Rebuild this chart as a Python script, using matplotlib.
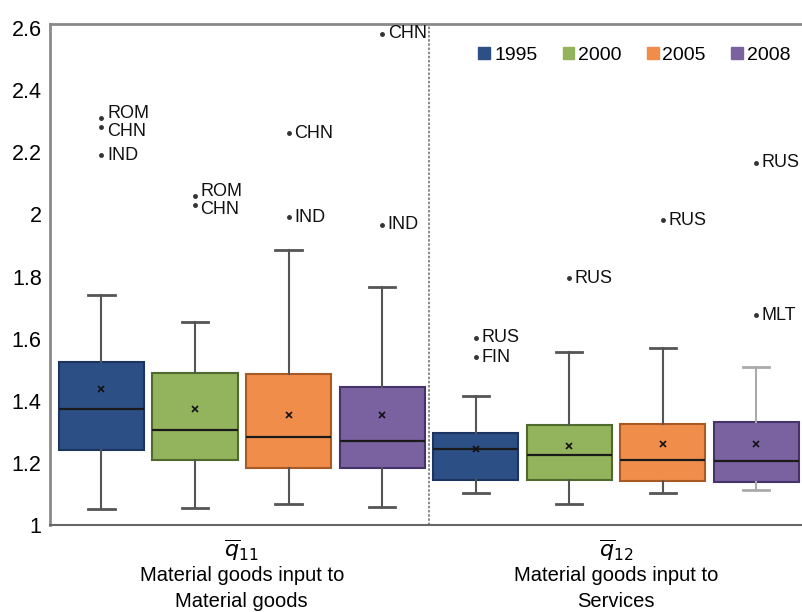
import matplotlib.pyplot as plt
from matplotlib.patches import Patch

plt.rcParams['font.family'] = ['Liberation Sans', 'DejaVu Sans']

# data (values on the y scale)
years = ['1995', '2000', '2005', '2008']
colors = ['#2c4f85', '#93b35c', '#f08d4b', '#7a62a0']
edge_colors = ['#1c3560', '#4f6a2c', '#a85a25', '#46336a']

# q11 : material goods input to material goods
q11_whislo = [1.053, 1.056, 1.067, 1.058]
q11_q1 = [1.240, 1.210, 1.183, 1.182]
q11_med = [1.373, 1.306, 1.284, 1.271]
q11_mean = [1.438, 1.375, 1.355, 1.355]
q11_q3 = [1.524, 1.489, 1.485, 1.444]
q11_whishi = [1.742, 1.653, 1.884, 1.766]
q11_outliers = [
    [('ROM', 2.310), ('CHN', 2.282), ('IND', 2.190)],
    [('ROM', 2.059), ('CHN', 2.030)],
    [('CHN', 2.262), ('IND', 1.990)],
    [('CHN', 2.581), ('IND', 1.967)],
]

# q12 : material goods input to services
q12_whislo = [1.104, 1.067, 1.104, 1.113]
q12_q1 = [1.146, 1.144, 1.140, 1.137]
q12_med = [1.246, 1.225, 1.210, 1.205]
q12_mean = [1.246, 1.253, 1.260, 1.262]
q12_q3 = [1.296, 1.322, 1.324, 1.330]
q12_whishi = [1.414, 1.558, 1.570, 1.509]
q12_outliers = [
    [('RUS', 1.602), ('FIN', 1.540)],
    [('RUS', 1.795)],
    [('RUS', 1.981)],
    [('RUS', 2.166), ('MLT', 1.676)],
]

yticks = [1, 1.2, 1.4, 1.6, 1.8, 2, 2.2, 2.4, 2.6]
ytick_labels = ['1', '1.2', '1.4', '1.6', '1.8', '2', '2.2', '2.4', '2.6']

# label nudges (points) where two outlier labels sit close together
nudge = {(0, 'ROM'): 3.5, (0, 'CHN'): -3.5, (1, 'ROM'): 3, (1, 'CHN'): -3.5}


def make_stats(whislo, q1, med, mean, q3, whishi, outliers):
    stats = []
    for i in range(len(med)):
        stats.append({
            'whislo': whislo[i], 'q1': q1[i], 'med': med[i], 'mean': mean[i],
            'q3': q3[i], 'whishi': whishi[i],
            'fliers': [v for _, v in outliers[i]],
        })
    return stats


stats = (make_stats(q11_whislo, q11_q1, q11_med, q11_mean, q11_q3, q11_whishi, q11_outliers)
         + make_stats(q12_whislo, q12_q1, q12_med, q12_mean, q12_q3, q12_whishi, q12_outliers))
outliers = q11_outliers + q12_outliers
positions = list(range(8))

fig = plt.figure(figsize=(8.03, 6.12), dpi=100)
ax = fig.add_axes([0.0623, 0.1422, 0.9377, 0.8186])

bp = ax.bxp(stats, positions=positions, widths=0.91, capwidths=0.28,
            patch_artist=True, showmeans=True,
            whiskerprops=dict(color='#555555', linewidth=1.5),
            capprops=dict(color='#555555', linewidth=2),
            medianprops=dict(color='#1a1a1a', linewidth=1.6),
            meanprops=dict(marker='x', markeredgecolor='#111111', markersize=5,
                           markeredgewidth=1.2),
            flierprops=dict(marker='o', markersize=2.5, markerfacecolor='#333333',
                            markeredgecolor='#333333'))

for i, box in enumerate(bp['boxes']):
    box.set_facecolor(colors[i % 4])
    box.set_edgecolor(edge_colors[i % 4])
    box.set_linewidth(1.5)

# lighter whisker on the last box, as in the original
for line in bp['whiskers'][14:16] + bp['caps'][14:16]:
    line.set_color('#aaaaaa')

for pos, outs in zip(positions, outliers):
    for name, val in outs:
        dy = nudge.get((pos, name), 0)
        ax.annotate(name, xy=(pos, val), xytext=(4, dy), textcoords='offset points',
                    va='center', ha='left', fontsize=13, color='#111111')

ax.axvline(3.5, color='#777777', linestyle=(0, (1.5, 1)), linewidth=1.2)

ax.set_xlim(-0.55, 7.5)
ax.set_ylim(1.0, 2.613)
ax.set_yticks(yticks)
ax.set_yticklabels(ytick_labels)
ax.tick_params(axis='y', length=0, labelsize=15.5, pad=6)
ax.set_xticks([])

for side in ['left', 'top']:
    ax.spines[side].set_color('#8a8a8a')
    ax.spines[side].set_linewidth(2)
ax.spines['bottom'].set_color('#666666')
ax.spines['bottom'].set_linewidth(1.5)
ax.spines['right'].set_visible(False)

# category labels under the axis
for xc, sub, desc in [(1.5, '11', 'Material goods input to\nMaterial goods'),
                      (5.5, '12', 'Material goods input to\nServices')]:
    ax.text(xc, -0.05, r'$\overline{q}_{%s}$' % sub, transform=ax.get_xaxis_transform(),
            ha='center', va='center', fontsize=16, family='DejaVu Serif')
    ax.text(xc, -0.082, desc, transform=ax.get_xaxis_transform(),
            ha='center', va='top', fontsize=14.5, linespacing=1.45)

handles = [Patch(facecolor=c, edgecolor=c) for c in colors]
fig.legend(handles, years, loc='center', bbox_to_anchor=(0.79, 0.91), ncol=4,
           frameon=False, fontsize=14, handlelength=0.6, handleheight=0.6,
           handletextpad=0.2, columnspacing=1.3)

fig.savefig('out.png', dpi=100)
